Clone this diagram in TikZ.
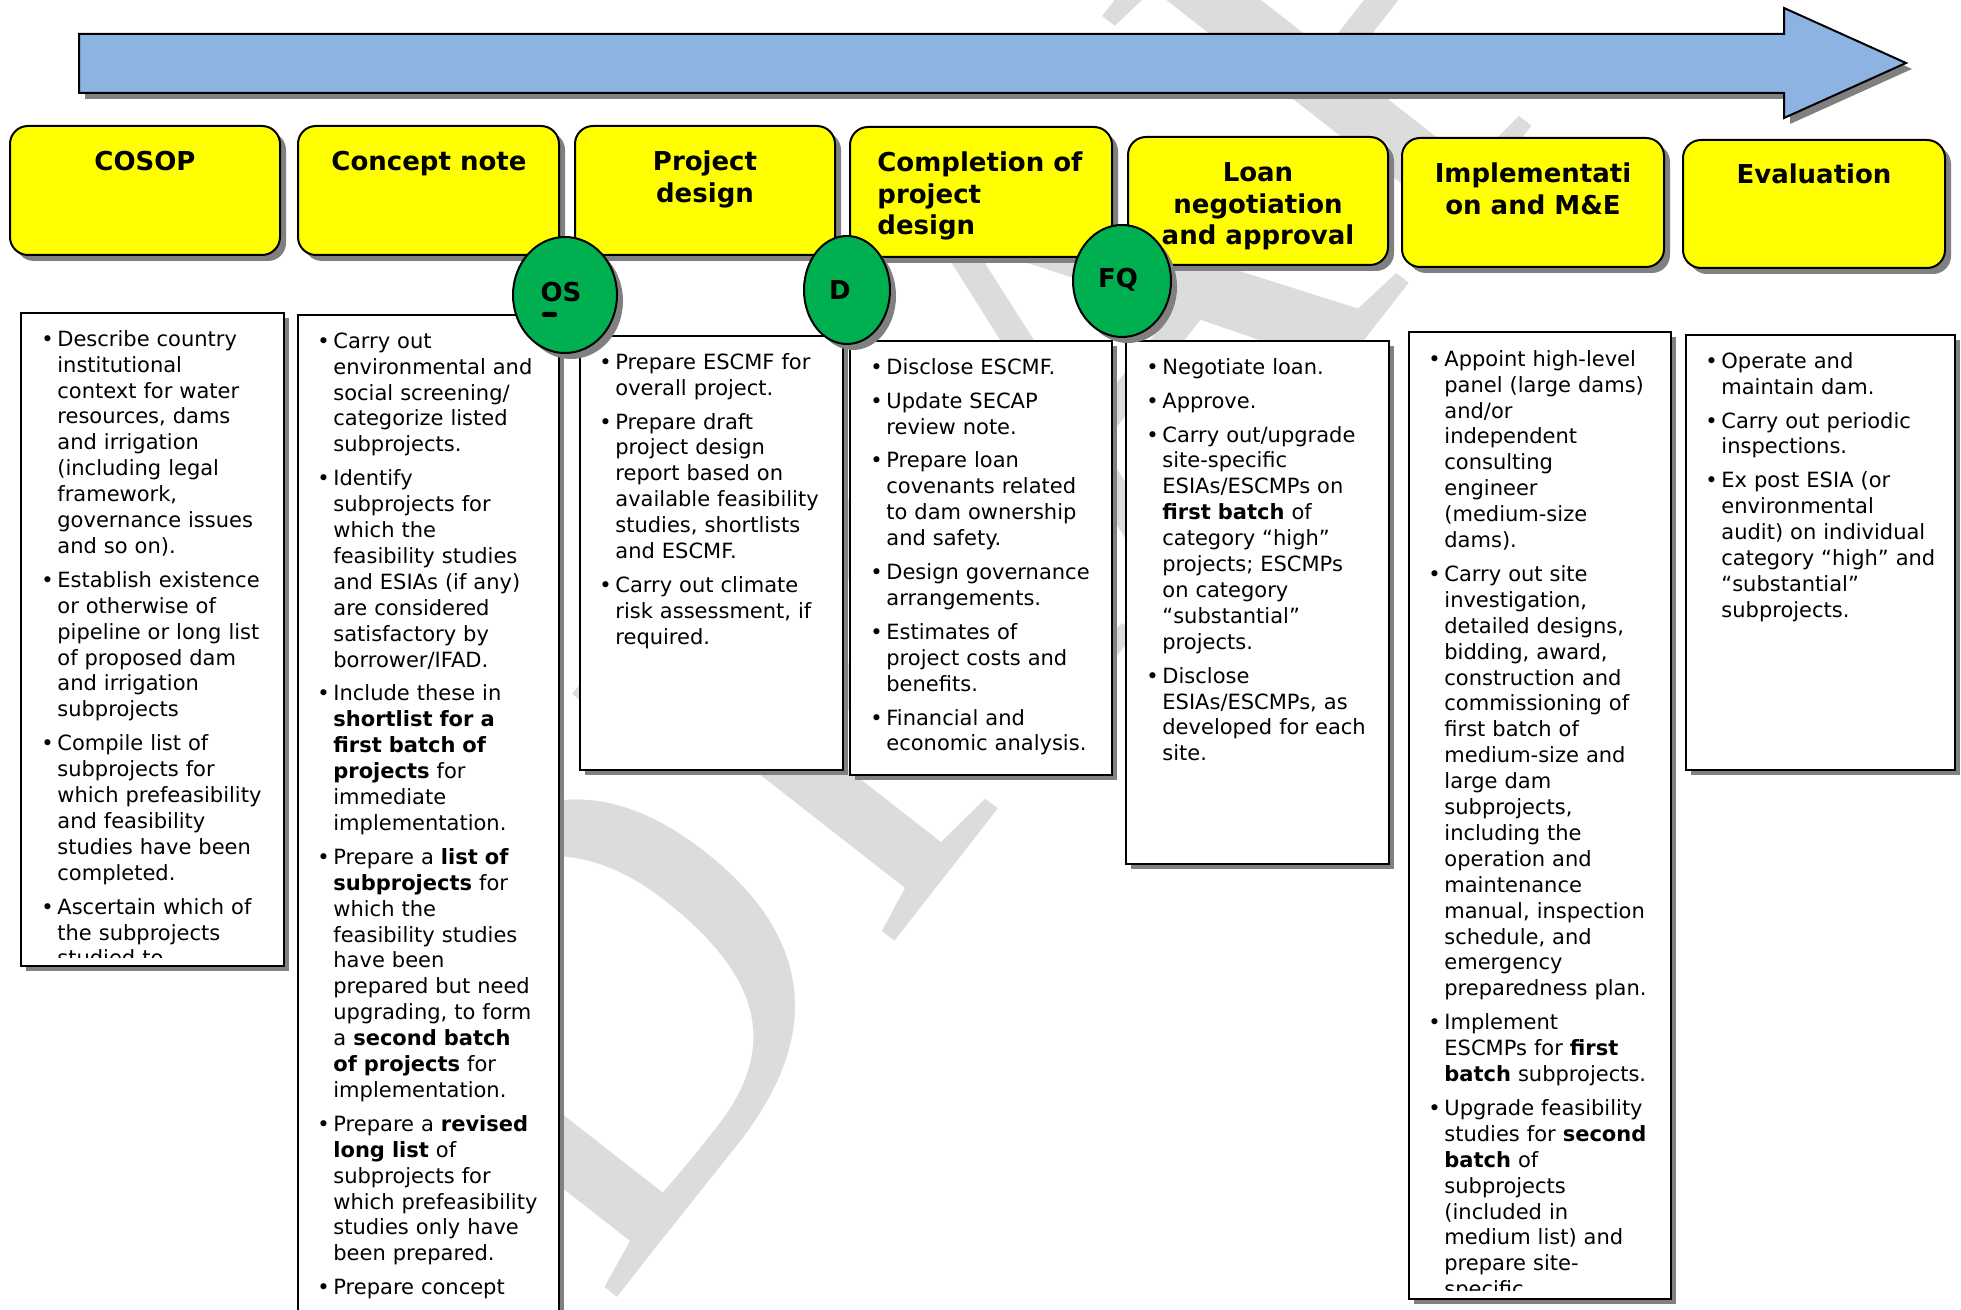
\documentclass[tikz,border=0pt]{standalone}
\usepackage{fontspec}
\setmainfont{DejaVu Sans}
\newfontfamily\wmfont{Liberation Serif}
\usepackage{tikz}

\definecolor{arrowblue}{HTML}{8DB3E2}
\definecolor{hdyellow}{HTML}{FFFF00}
\definecolor{gategreen}{HTML}{00B050}
\definecolor{shadowgray}{HTML}{808080}
\definecolor{wmgray}{HTML}{DCDCDC}

% one bullet point with hanging indent
\newcommand{\itm}[1]{\par\noindent\hangindent=7pt\hangafter=1%
  \makebox[7pt][l]{\rule{0pt}{10pt}\hspace{-1pt}\textbullet}#1\par}

\tikzset{
  hdbox/.style={draw=black, line width=1pt, fill=hdyellow, rounded corners=9pt},
  bodybox/.style={draw=black, line width=1pt, fill=white},
  shade/.style={fill=shadowgray},
  hdtext/.style={anchor=north, inner sep=0pt, align=center,
    font=\fontsize{13}{15.85}\selectfont\bfseries},
  bodytext/.style={anchor=north west, inner sep=0pt, text width=128pt, align=left,
    font=\fontsize{10.5}{12.95}\selectfont\setlength{\parskip}{4pt}},
  gate/.style={draw=black, line width=1pt, fill=gategreen},
  gatetext/.style={inner sep=0pt, align=center, font=\fontsize{13}{13}\selectfont\bfseries}
}

\begin{document}
\begin{tikzpicture}[x=0.5pt, y=-0.5pt]
    \useasboundingbox (0,0) rectangle (1961,1310);
    % watermark
    \node[text=wmgray, rotate=52, inner sep=0pt, font=\wmfont\fontsize{310}{310}\selectfont] (wm) at (1071,385) {DRAFT};

    % time arrow
    \fill[shadowgray] (85,40) -- (1790,40) -- (1790,14) -- (1912,69) -- (1790,124) -- (1790,99) -- (85,99) -- cycle;
    \draw[line width=1pt, fill=arrowblue] (79,34) -- (1784,34) -- (1784,8) -- (1906,63) -- (1784,118) -- (1784,93) -- (79,93) -- cycle;

    % header boxes: left/right/top/bottom
    \foreach \l/\r/\t/\b in {10/280/126/255, 298/559/126/255, 575/835/126/255, 850/1112/127/257,
                            1128/1388/137/265, 1402/1664/138/267, 1683/1945/140/268}{
      \fill[shade, rounded corners=9pt] (\l+6,\t+6) rectangle (\r+6,\b+6);
      \draw[hdbox] (\l,\t) rectangle (\r,\b);
    }
    \node[hdtext] (cosop) at (145,144) {\rule{0pt}{13pt}COSOP};
    \node[hdtext] (concept) at (429,144) {\rule{0pt}{13pt}Concept note};
    \node[hdtext] (design) at (705,144) {\rule{0pt}{13pt}Project\\design};
    \node[hdtext, anchor=north west, align=left] (completion) at (877,145) {\rule{0pt}{13pt}Completion of\\project\\design};
    \node[hdtext] (loan) at (1258,155) {\rule{0pt}{13pt}Loan\\negotiation\\and approval};
    \node[hdtext] (implement) at (1533,156) {\rule{0pt}{13pt}Implementati\\on and M\&E};
    \node[hdtext] (evaluation) at (1814,157) {\rule{0pt}{13pt}Evaluation};

    % body boxes
    \foreach \l/\r/\t/\b in {21/284/313/966, 298/559/315/1330, 580/843/336/770, 850/1112/341/775,
                            1126/1389/341/864, 1409/1671/332/1299, 1686/1955/335/770}{
      \fill[shade] (\l+5,\t+5) rectangle (\r+5,\b+5);
      \draw[bodybox] (\l,\t) rectangle (\r,\b);
    }

    \begin{scope}
      \clip (22,314) rectangle (283,957);
      \node[bodytext] (cosoptext) at (43,312) {%
        \itm{Describe country\newline institutional\newline context for water\newline resources, dams\newline and irrigation\newline (including legal\newline framework,\newline governance issues\newline and so on).}
        \itm{Establish existence\newline or otherwise of\newline pipeline or long list\newline of proposed dam\newline and irrigation\newline subprojects}
        \itm{Compile list of\newline subprojects for\newline which prefeasibility\newline and feasibility\newline studies have been\newline completed.}
        \itm{Ascertain which of\newline the subprojects\newline studied to}};
    \end{scope}

    \node[bodytext] (concepttext) at (319,314) {%
      \itm{Carry out\newline environmental and\newline social screening/\newline categorize listed\newline subprojects.}
      \itm{Identify\newline subprojects for\newline which the\newline feasibility studies\newline and ESIAs (if any)\newline are considered\newline satisfactory by\newline borrower/IFAD.}
      \itm{Include these in\newline \textbf{shortlist for a}\newline \textbf{first batch of}\newline \textbf{projects} for\newline immediate\newline implementation.}
      \itm{Prepare a \textbf{list of}\newline \textbf{subprojects} for\newline which the\newline feasibility studies\newline have been\newline prepared but need\newline upgrading, to form\newline a \textbf{second batch}\newline \textbf{of projects} for\newline implementation.}
      \itm{Prepare a \textbf{revised}\newline \textbf{long list} of\newline subprojects for\newline which prefeasibility\newline studies only have\newline been prepared.}
      \itm{Prepare concept}};

    \node[bodytext] (designtext) at (601,335) {%
      \itm{Prepare ESCMF for\newline overall project.}
      \itm{Prepare draft\newline project design\newline report based on\newline available feasibility\newline studies, shortlists\newline and ESCMF.}
      \itm{Carry out climate\newline risk assessment, if\newline required.}};

    \node[bodytext] (completiontext) at (872,340) {%
      \itm{Disclose ESCMF.}
      \itm{Update SECAP\newline review note.}
      \itm{Prepare loan\newline covenants related\newline to dam ownership\newline and safety.}
      \itm{Design governance\newline arrangements.}
      \itm{Estimates of\newline project costs and\newline benefits.}
      \itm{Financial and\newline economic analysis.}};

    \node[bodytext] (loantext) at (1148,340) {%
      \itm{Negotiate loan.}
      \itm{Approve.}
      \itm{Carry out/upgrade\newline site-specific\newline ESIAs/ESCMPs on\newline \textbf{first batch} of\newline category “high”\newline projects; ESCMPs\newline on category\newline “substantial”\newline projects.}
      \itm{Disclose\newline ESIAs/ESCMPs, as\newline developed for each\newline site.}};

    \begin{scope}
      \clip (1410,333) rectangle (1670,1290);
      \node[bodytext] (implementtext) at (1430,332) {%
        \itm{Appoint high-level\newline panel (large dams)\newline and/or\newline independent\newline consulting\newline engineer\newline (medium-size\newline dams).}
        \itm{Carry out site\newline investigation,\newline detailed designs,\newline bidding, award,\newline construction and\newline commissioning of\newline first batch of\newline medium-size and\newline large dam\newline subprojects,\newline including the\newline operation and\newline maintenance\newline manual, inspection\newline schedule, and\newline emergency\newline preparedness plan.}
        \itm{Implement\newline ESCMPs for \textbf{first}\newline \textbf{batch} subprojects.}
        \itm{Upgrade feasibility\newline studies for \textbf{second}\newline \textbf{batch} of\newline subprojects\newline (included in\newline medium list) and\newline prepare site-\newline specific}};
    \end{scope}

    \node[bodytext] (evaluationtext) at (1707,334) {%
      \itm{Operate and\newline maintain dam.}
      \itm{Carry out periodic\newline inspections.}
      \itm{Ex post ESIA (or\newline environmental\newline audit) on individual\newline category “high” and\newline “substantial”\newline subprojects.}};

    % decision gates
    \fill[shadowgray] (571,301) ellipse [x radius=52, y radius=58];
    \draw[gate] (565,295) ellipse [x radius=52, y radius=58];
    \node[gatetext] (os) at (561,292) {OS};
    \fill[rounded corners=1pt] (542,312) rectangle (557,317);
    \fill[shadowgray] (853,296) ellipse [x radius=43, y radius=54];
    \draw[gate] (847,290) ellipse [x radius=43, y radius=54];
    \node[gatetext] (d) at (840,290) {D};
    \fill[shadowgray] (1128,287) ellipse [x radius=49, y radius=56];
    \draw[gate] (1122,281) ellipse [x radius=49, y radius=56];
    \node[gatetext] (fq) at (1118,280) {FQ};
\end{tikzpicture}
\end{document}
